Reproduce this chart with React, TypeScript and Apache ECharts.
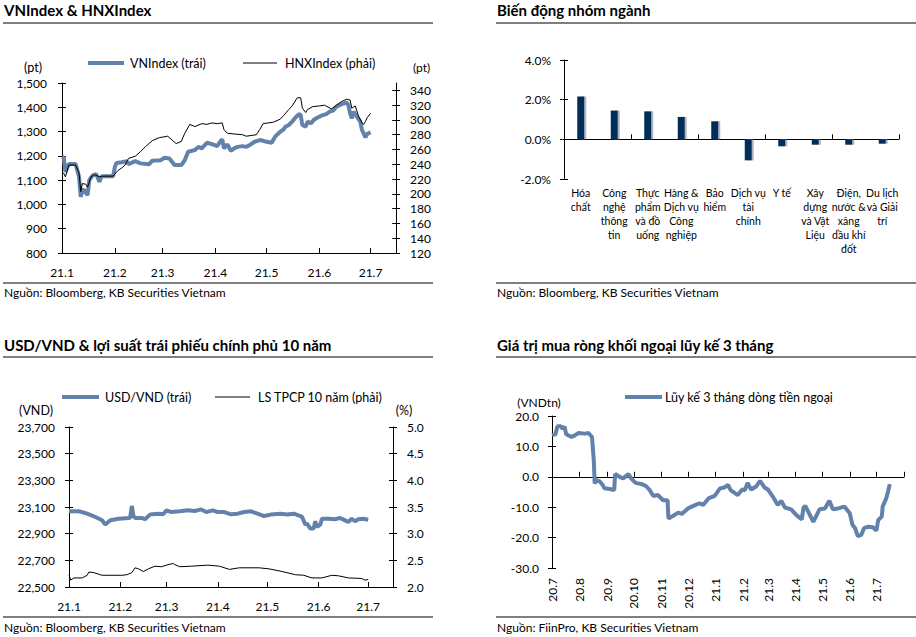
import React, { useEffect, useRef } from "react";
import * as echarts from "echarts";

const FONT = 'Lato, "Noto Sans", sans-serif';
const BLUE = "#6282AB";
const NAVY = "#002D5A";

// ---------- Panel 1: VNIndex & HNXIndex (x = days since 2021-01-01) ----------
const months2021Days = [0, 31, 59, 90, 120, 151, 181];
const months2021Labels = ["21.1", "21.2", "21.3", "21.4", "21.5", "21.6", "21.7"];

const vnDays = [0, 1, 2, 4, 8, 10, 11, 12, 13, 15, 16, 18, 20, 22, 23, 24, 30, 31, 32, 35, 38, 39, 43, 46, 51, 53, 58, 60, 63, 66, 70, 72, 74, 78, 80, 82, 85, 88, 91, 93, 94, 95, 97, 99, 101, 103, 106, 108, 110, 113, 116, 118, 120, 123, 125, 128, 130, 131, 133, 135, 137, 139, 140, 141, 143, 144, 146, 148, 150, 153, 155, 157, 159, 161, 164, 167, 168, 169, 170, 171, 173, 175, 176, 177, 178, 179, 181];
const vnValues = [1196, 1193, 1134, 1166, 1166, 1114, 1031, 1059, 1059, 1038, 1100, 1120, 1125, 1093, 1114, 1116, 1116, 1155, 1171, 1174, 1178, 1166, 1178, 1169, 1165, 1180, 1182, 1192, 1189, 1162, 1162, 1182, 1217, 1224, 1237, 1231, 1254, 1248, 1240, 1261, 1268, 1231, 1247, 1221, 1231, 1237, 1240, 1237, 1244, 1258, 1265, 1262, 1258, 1254, 1279, 1299, 1309, 1320, 1327, 1341, 1358, 1372, 1368, 1327, 1320, 1341, 1334, 1350, 1358, 1368, 1372, 1382, 1386, 1402, 1413, 1419, 1409, 1375, 1354, 1382, 1361, 1341, 1306, 1292, 1276, 1290, 1297];

const hnxDays = [0, 1, 2, 4, 8, 10, 11, 12, 14, 15, 17, 19, 22, 24, 30, 33, 35, 37, 39, 43, 46, 49, 53, 57, 62, 65, 67, 70, 72, 75, 78, 82, 85, 88, 91, 94, 95, 97, 101, 106, 108, 114, 116, 118, 124, 128, 130, 133, 135, 138, 140, 141, 143, 144, 147, 151, 154, 158, 161, 164, 167, 169, 170, 172, 174, 176, 177, 178, 179, 181];
const hnxValues = [226, 228, 223, 239, 239, 228, 203, 214, 213, 209, 223, 226, 223, 224, 224, 232, 235, 239, 248, 251, 257, 264, 272, 276, 278, 272, 268, 271, 282, 294, 291, 295, 294, 296, 295, 296, 287, 282, 281, 280, 278, 280, 287, 295, 297, 301, 306, 314, 319, 330, 330, 316, 310, 314, 318, 319, 320, 315, 320, 325, 328, 327, 316, 319, 305, 296, 294, 298, 303, 309];

const hnxTicks = [120, 140, 160, 180, 200, 220, 240, 260, 280, 300, 320, 340];

// ---------- Panel 2: sector changes ----------
const sectorLabels = [
  "Hóa\nchất",
  "Công\nnghệ\nthông\ntin",
  "Thực\nphẩm\nvà đồ\nuống",
  "Hàng &\nDịch vụ\nCông\nnghiệp",
  "Bảo\nhiểm",
  "Dịch vụ\ntài\nchính",
  "Y tế",
  "Xây\ndựng\nvà Vật\nLiệu",
  "Điện,\nnước &\nxăng\ndầu khí\nđốt",
  "Du lịch\nvà Giải\ntrí",
];
const sectorChanges = [2.16, 1.45, 1.41, 1.13, 0.91, -1.06, -0.35, -0.27, -0.27, -0.22];

// ---------- Panel 3: USD/VND & 10Y bond yield (x = days since 2021-01-01) ----------
const usdDays = [0, 6, 11, 16, 20, 22, 25, 30, 36, 37, 38, 39, 40, 44, 46, 49, 54, 57, 59, 62, 67, 72, 76, 80, 83, 87, 90, 94, 98, 102, 106, 110, 114, 118, 122, 128, 132, 136, 140, 141, 143, 144, 146, 148, 149, 150, 152, 153, 157, 161, 164, 167, 169, 171, 173, 175, 178, 181];
const usdValues = [23068, 23068, 23050, 23025, 23000, 22968, 23000, 23012, 23018, 23020, 23108, 23030, 23018, 23018, 23008, 23043, 23050, 23045, 23075, 23062, 23068, 23075, 23070, 23082, 23062, 23075, 23062, 23062, 23045, 23050, 23062, 23068, 23050, 23032, 23043, 23050, 23043, 23050, 23032, 23025, 22968, 22975, 22938, 22938, 22993, 22950, 22968, 23012, 23012, 23008, 23018, 23000, 22988, 23012, 22993, 23008, 23012, 23005];

const bondDays = [0, 1, 3, 8, 11, 12, 15, 20, 32, 35, 38, 40, 42, 45, 48, 52, 56, 60, 63, 64, 67, 74, 84, 91, 97, 103, 115, 121, 129, 137, 142, 147, 153, 159, 163, 169, 177, 179, 181];
const bondValues = [2.23, 2.13, 2.17, 2.17, 2.22, 2.28, 2.27, 2.22, 2.22, 2.23, 2.27, 2.36, 2.34, 2.29, 2.34, 2.39, 2.38, 2.42, 2.44, 2.42, 2.38, 2.39, 2.41, 2.39, 2.33, 2.36, 2.36, 2.34, 2.29, 2.23, 2.22, 2.17, 2.17, 2.22, 2.21, 2.17, 2.16, 2.13, 2.14];

// ---------- Panel 4: foreign net buying, 3-month rolling (x = days since 2020-07-01) ----------
const flowMonthDays = [0, 31, 62, 92, 123, 153, 184, 215, 243, 274, 304, 335, 365, 396];
const flowMonthLabels = ["20.7", "20.8", "20.9", "20.10", "20.11", "20.12", "21.1", "21.2", "21.3", "21.4", "21.5", "21.6", "21.7"];
const flowDays = [0, 4, 6, 10, 12, 14, 16, 22, 26, 30, 37, 41, 45, 47, 48, 50, 54, 57, 59, 65, 70, 71, 76, 80, 86, 89, 94, 101, 106, 110, 114, 119, 125, 130, 131, 136, 142, 146, 153, 161, 166, 170, 176, 183, 189, 194, 198, 201, 209, 214, 217, 220, 224, 230, 234, 239, 243, 249, 254, 258, 262, 269, 275, 281, 283, 285, 294, 301, 307, 312, 316, 322, 329, 335, 338, 341, 344, 348, 351, 356, 361, 365, 367, 371, 372, 376, 378, 380];
const flowValues = [13.7, 14.0, 16.6, 16.6, 15.8, 16.6, 14.0, 13.1, 13.7, 14.4, 14.2, 14.4, 13.1, 5.5, -2.2, -1.1, -1.6, -2.7, -3.8, -4.0, -4.4, 0.9, 0.0, -0.5, 0.9, -0.5, -2.0, -2.4, -3.1, -4.4, -6.3, -6.0, -7.7, -7.7, -13.7, -12.9, -11.8, -12.2, -10.4, -9.3, -8.7, -9.3, -7.1, -6.3, -3.8, -3.5, -2.7, -4.4, -6.0, -4.2, -4.4, -2.0, -4.2, -3.1, -1.3, -3.5, -4.2, -6.8, -9.3, -7.9, -10.1, -10.7, -12.6, -14.0, -10.1, -9.6, -14.8, -10.7, -10.4, -7.9, -10.7, -10.4, -9.8, -12.0, -15.8, -16.9, -19.5, -19.1, -16.9, -16.4, -16.6, -17.7, -14.2, -13.1, -9.8, -7.1, -4.9, -2.4];

// ---------- helpers ----------
const zip = (xs: number[], ys: number[]) => xs.map((x, i) => [x, ys[i]]);
const fmtThousands = (v: number) => v.toLocaleString("en-US");
const monthFmt = (days: number[], labels: string[]) => (v: number) => {
  const i = days.indexOf(Math.round(v));
  return i >= 0 && i < labels.length ? labels[i] : "";
};

const txt = (text: string, x: number, y: number, extra: any = {}) => ({
  type: "text",
  x,
  y,
  silent: true,
  style: {
    text,
    fill: "#000",
    fontFamily: FONT,
    fontSize: 12,
    align: "left",
    verticalAlign: "middle",
    ...extra,
  },
});
const hline = (x1: number, x2: number, y: number, stroke = "#000", lineWidth = 1.2) => ({
  type: "line",
  silent: true,
  shape: { x1, y1: y, x2, y2: y },
  style: { stroke, lineWidth },
});

function frame(title: string, source: string, x0: number, x1: number, titleY: number, ruleY: number, srcRuleY: number, srcY: number) {
  return [
    txt(title, x0 + 1, titleY, { fontSize: 15, fontWeight: "bold" }),
    hline(x0, x1, ruleY),
    hline(x0, x1, srcRuleY),
    txt(source, x0 + 1, srcY, { fontSize: 12 }),
  ];
}

const axisLineBlack = { show: true, lineStyle: { color: "#000", width: 1 } };
const labelBase = { color: "#000", fontFamily: FONT, fontSize: 12 };

function yPair(min: number, max: number, interval: number | undefined, position: string, margin: number, formatter: any, custom?: number[]) {
  const main: any = {
    type: "value",
    position,
    min,
    max,
    interval,
    axisLine: axisLineBlack,
    axisTick: { show: true, inside: false, length: 4, lineStyle: { color: "#000" } },
    axisLabel: { ...labelBase, margin, formatter },
    splitLine: { show: false },
  };
  const dup: any = {
    type: "value",
    position,
    min,
    max,
    interval,
    axisLine: { show: false },
    axisTick: { show: true, inside: true, length: 4, lineStyle: { color: "#000" } },
    axisLabel: { show: false },
    splitLine: { show: false },
  };
  if (custom) {
    main.axisTick.customValues = custom;
    main.axisLabel.customValues = custom;
    dup.axisTick.customValues = custom;
  }
  return [main, dup];
}

// ---------- options ----------
const [vnAxis, vnDup] = yPair(800, 1500, 100, "left", 15, fmtThousands);
const [hnxAxis, hnxDup] = yPair(120, 350, undefined, "right", 14, (v: number) => String(v), hnxTicks);

const option1: any = {
  animation: false,
  textStyle: { fontFamily: FONT },
  grid: { left: 62, top: 83, width: 341, height: 170 },
  graphic: [
    ...frame("VNIndex & HNXIndex", "Nguồn: Bloomberg, KB Securities Vietnam", 3, 433, 10, 23, 283, 292),
    hline(88, 124, 63, BLUE, 4),
    txt("VNIndex (trái)", 130, 63, { fontSize: 12.5 }),
    hline(243, 277, 63, "#000", 1),
    txt("HNXIndex (phải)", 285, 63, { fontSize: 12.5 }),
    txt("(pt)", 33, 67, { align: "center", fontSize: 12.5 }),
    txt("(pt)", 413, 67, { fontSize: 12 }),
  ],
  xAxis: {
    type: "value",
    min: 0,
    max: 196,
    axisLine: axisLineBlack,
    axisTick: { show: true, inside: true, length: 5, customValues: months2021Days, lineStyle: { color: "#000" } },
    axisLabel: { ...labelBase, margin: 13, customValues: months2021Days, formatter: monthFmt(months2021Days, months2021Labels) },
    splitLine: { show: false },
  },
  yAxis: [vnAxis, hnxAxis, vnDup, hnxDup],
  series: [
    { type: "line", yAxisIndex: 0, data: zip(vnDays, vnValues), showSymbol: false, lineStyle: { color: BLUE, width: 4 }, z: 2 },
    { type: "line", yAxisIndex: 1, data: zip(hnxDays, hnxValues), showSymbol: false, lineStyle: { color: "#000", width: 1 }, z: 3 },
  ],
};

const [secAxis, secDup] = yPair(-2, 4, 2, "left", 13, (v: number) => v.toFixed(1) + "%");
const option2: any = {
  animation: false,
  textStyle: { fontFamily: FONT },
  grid: { left: 104, top: 60, width: 335, height: 119 },
  graphic: frame("Biến động nhóm ngành", "Nguồn: Bloomberg, KB Securities Vietnam", 36, 456, 10, 23, 283, 292),
  xAxis: [
    {
      type: "category",
      data: sectorLabels,
      axisLine: { show: true, onZero: true, lineStyle: { color: "#000" } },
      axisTick: { show: true, inside: true, length: 5, lineStyle: { color: "#000" } },
      axisLabel: { show: false },
      splitLine: { show: false },
    },
    {
      type: "category",
      data: sectorLabels,
      position: "bottom",
      axisLine: { show: false, onZero: false },
      axisTick: { show: false },
      axisLabel: { ...labelBase, fontSize: 10.5, lineHeight: 14, interval: 0, margin: 7, align: "center" },
      splitLine: { show: false },
    },
  ],
  yAxis: [secAxis, secDup],
  series: [
    {
      type: "bar",
      xAxisIndex: 0,
      data: sectorChanges,
      barWidth: 7,
      itemStyle: { color: NAVY, shadowColor: "rgba(120,130,150,0.6)", shadowOffsetX: 2, shadowOffsetY: 0, shadowBlur: 0 },
    },
  ],
};

const [usdAxis, usdDup] = yPair(22500, 23700, 200, "left", 14, fmtThousands);
const [bondAxis, bondDup] = yPair(2, 5, 0.5, "right", 14, (v: number) => v.toFixed(1));
const option3: any = {
  animation: false,
  textStyle: { fontFamily: FONT },
  grid: { left: 69, top: 109, width: 324, height: 160 },
  graphic: [
    ...frame("USD/VND & lợi suất trái phiếu chính phủ 10 năm", "Nguồn: Bloomberg, KB Securities Vietnam", 3, 433, 27, 39, 299, 309),
    hline(62, 99, 79, BLUE, 4),
    txt("USD/VND (trái)", 105, 79, { fontSize: 12.5 }),
    hline(215, 250, 79, "#000", 1),
    txt("LS TPCP 10 năm (phải)", 258, 79, { fontSize: 12.5 }),
    txt("(VND)", 36, 92, { align: "center", fontSize: 12.5 }),
    txt("(%)", 404, 92, { align: "center", fontSize: 12.5 }),
  ],
  xAxis: {
    type: "value",
    min: 0,
    max: 196,
    axisLine: axisLineBlack,
    axisTick: { show: true, inside: true, length: 5, customValues: months2021Days, lineStyle: { color: "#000" } },
    axisLabel: { ...labelBase, margin: 13, customValues: months2021Days, formatter: monthFmt(months2021Days, months2021Labels) },
    splitLine: { show: false },
  },
  yAxis: [usdAxis, bondAxis, usdDup, bondDup],
  series: [
    { type: "line", yAxisIndex: 0, data: zip(usdDays, usdValues), showSymbol: false, lineStyle: { color: BLUE, width: 4 }, z: 2 },
    { type: "line", yAxisIndex: 1, data: zip(bondDays, bondValues), showSymbol: false, lineStyle: { color: "#000", width: 1 }, z: 3 },
  ],
};

const [flowAxis, flowDup] = yPair(-30, 20, 10, "left", 13, (v: number) => v.toFixed(1));
const option4: any = {
  animation: false,
  textStyle: { fontFamily: FONT },
  grid: { left: 92, top: 98, width: 352, height: 152 },
  graphic: [
    ...frame("Giá trị mua ròng khối ngoại lũy kế 3 tháng", "Nguồn: FiinPro, KB Securities Vietnam", 36, 456, 27, 39, 299, 309),
    hline(165, 202, 79, BLUE, 4),
    txt("Lũy kế 3 tháng dòng tiền ngoại", 205, 79, { fontSize: 12.5 }),
    txt("(VNDtn)", 79, 84, { align: "center", fontSize: 12 }),
  ],
  xAxis: [
    {
      type: "value",
      min: 0,
      max: 396,
      axisLine: { show: true, onZero: true, lineStyle: { color: "#000" } },
      axisTick: { show: true, inside: true, length: 5, customValues: flowMonthDays, lineStyle: { color: "#000" } },
      axisLabel: { show: false },
      splitLine: { show: false },
    },
    {
      type: "value",
      min: 0,
      max: 396,
      position: "bottom",
      axisLine: { show: false, onZero: false },
      axisTick: { show: false },
      axisLabel: { ...labelBase, rotate: 90, margin: 10, customValues: flowMonthDays.slice(0, 13), formatter: monthFmt(flowMonthDays, flowMonthLabels) },
      splitLine: { show: false },
    },
  ],
  yAxis: [flowAxis, flowDup],
  series: [
    { type: "line", xAxisIndex: 0, yAxisIndex: 0, data: zip(flowDays, flowValues), showSymbol: false, lineStyle: { color: BLUE, width: 4 } },
  ],
};

function Panel({ left, top, width, height, option }: { left: number; top: number; width: number; height: number; option: any }) {
  const ref = useRef<HTMLDivElement>(null);
  useEffect(() => {
    if (!ref.current) return;
    const chart = echarts.init(ref.current, null, { renderer: "svg" });
    chart.setOption(option);
    return () => chart.dispose();
  }, [option]);
  return <div ref={ref} style={{ position: "absolute", left, top, width, height, overflow: "hidden" }} />;
}

export default function App() {
  return (
    <div style={{ position: "fixed", left: 0, top: 0, width: 916, height: 637, background: "#fff", overflow: "hidden" }}>
      <Panel left={0} top={0} width={434} height={310} option={option1} />
      <Panel left={460} top={0} width={456} height={310} option={option2} />
      <Panel left={0} top={318} width={434} height={319} option={option3} />
      <Panel left={460} top={318} width={456} height={319} option={option4} />
    </div>
  );
}
